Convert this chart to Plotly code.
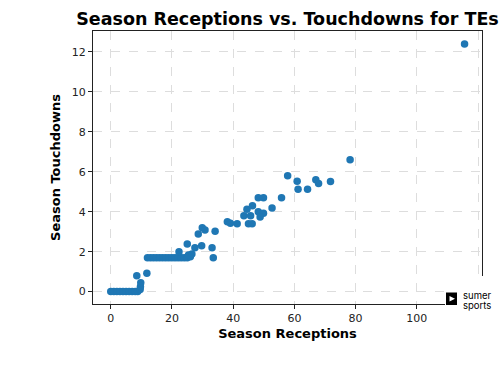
import plotly.graph_objects as go

receptions = [0, 1, 2, 3, 4, 5, 6, 7, 8, 8.8,
              9.6, 9.7, 9.8, 8.5, 11.8,
              12, 13, 14, 15, 16, 17, 18, 19, 20, 21, 22, 23, 24, 25, 26, 33.5,
              22.3, 25.0, 25.4, 26.5, 27.5, 29.7, 33.1,
              28.6, 29.9, 30.8, 34.1,
              38.1, 39.1, 41.3,
              43.5, 45.7, 45.0, 46.2, 44.5, 46.3, 48.2, 49.9, 48.8, 52.7,
              48.2, 49.9, 55.8,
              57.8, 60.9, 61.2, 64.3, 67.0, 67.9, 71.8,
              78.2, 115.6]
touchdowns = [0, 0, 0, 0, 0, 0, 0, 0, 0, 0,
              0.1, 0.25, 0.45, 0.8, 0.92,
              1.7, 1.7, 1.7, 1.7, 1.7, 1.7, 1.7, 1.7, 1.7, 1.7, 1.7, 1.7, 1.7, 1.7, 1.75, 1.7,
              2.0, 2.38, 1.83, 1.88, 2.2, 2.3, 2.2,
              2.88, 3.2, 3.08, 3.02,
              3.5, 3.42, 3.4,
              3.8, 3.8, 3.4, 3.4, 4.12, 4.3, 4.0, 3.92, 3.74, 4.19,
              4.7, 4.7, 4.7,
              5.8, 5.53, 5.13, 5.13, 5.6, 5.42, 5.52,
              6.6, 12.4]

x_ticks = [0, 20, 40, 60, 80, 100, 120]
y_ticks = [0, 2, 4, 6, 8, 10, 12]

FONT = "DejaVu Sans"

fig = go.Figure()
fig.add_trace(go.Scatter(
    x=receptions, y=touchdowns, mode="markers",
    marker=dict(size=7.5, color="#1f77b4", line=dict(width=0)),
    showlegend=False,
))

L, R, T, B = 93, 482, 31, 304
W, H = 500, 375

def px(xp):
    return (xp - L) / (R - L)

def py(yp):
    return (B - yp) / (B - T)

axis_common = dict(
    showline=True, linecolor="#222222", linewidth=1, mirror=True,
    ticks="outside", ticklen=4, tickcolor="#222222",
    showgrid=True, gridcolor="#dddddd", griddash="dash", gridwidth=0.8,
    zeroline=False,
    tickfont=dict(family=FONT, size=11, color="#222222"),
)

fig.update_layout(
    width=W, height=H,
    margin=dict(l=L, r=W - R, t=T, b=H - B),
    paper_bgcolor="white", plot_bgcolor="white",
    font=dict(family=FONT),
    title=dict(text="<b>Season Receptions vs. Touchdowns for TEs</b>",
               x=(L + R) / 2 / W, xanchor="center", y=1 - 18.5 / H, yanchor="middle",
               font=dict(family=FONT, size=17.5, color="black")),
    xaxis=dict(range=[-5.8, 121.3], tickvals=x_ticks,
               title=dict(text="<b>Season Receptions</b>", standoff=4,
                          font=dict(family=FONT, size=13, color="black")),
               **axis_common),
    yaxis=dict(range=[-0.62, 13.05], tickvals=y_ticks,
               title=dict(text="<b>Season Touchdowns</b>", standoff=8,
                          font=dict(family=FONT, size=13, color="black")),
               **axis_common),
)

# logo box (white background covering corner)
fig.add_shape(type="rect", xref="paper", yref="paper",
              x0=px(445), x1=px(505), y0=py(326), y1=py(276),
              fillcolor="white", line=dict(width=0), layer="above")
fig.add_shape(type="rect", xref="paper", yref="paper",
              x0=px(446), x1=px(457), y0=py(305), y1=py(292.5),
              fillcolor="black", line=dict(width=0), layer="above")
fig.add_shape(type="path", xref="paper", yref="paper",
              path=f"M {px(449.5)} {py(296)} L {px(455)} {py(298.7)} L {px(449.5)} {py(301.4)} Z",
              fillcolor="white", line=dict(width=0), layer="above")
fig.add_annotation(text="sumer", xref="paper", yref="paper",
                   x=px(461), y=py(295.5), xanchor="left", yanchor="middle",
                   showarrow=False, font=dict(family="Inter", size=9.5, color="black"))
fig.add_annotation(text="sports", xref="paper", yref="paper",
                   x=px(461), y=py(305.5), xanchor="left", yanchor="middle",
                   showarrow=False, font=dict(family="Inter", size=9.5, color="black"))

fig.write_html("out.html")
